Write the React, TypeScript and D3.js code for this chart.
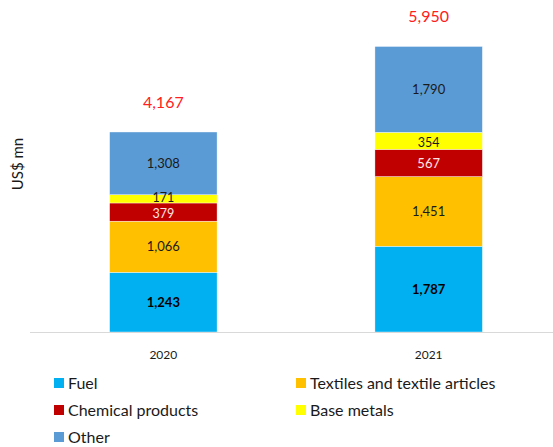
import React from "react";
import * as d3 from "d3";

const years = ["2020", "2021"];
const seriesNames = ["Fuel", "Textiles and textile articles", "Chemical products", "Base metals", "Other"];
const fuel = [1243, 1787];
const textiles = [1066, 1451];
const chemical = [379, 567];
const baseMetals = [171, 354];
const other = [1308, 1790];
const totals = [4167, 5950];
const colors = ["#00B0F0", "#FFC000", "#C00000", "#FFFF00", "#5B9BD5"];
const labelColors = ["#000", "#1a1a1a", "#ffe6e6", "#1a1a1a", "#1a1a1a"];
const labelWeights = ["bold", "normal", "normal", "normal", "normal"];

const W = 553;
const H = 447;
const FONT = "Lato, 'Open Sans', sans-serif";

export default function App() {
  const values = [fuel, textiles, chemical, baseMetals, other];
  const rows = years.map((yr, i) => {
    const r: any = { year: yr };
    seriesNames.forEach((s, k) => (r[s] = values[k][i]));
    return r;
  });
  const stack = d3.stack<any>().keys(seriesNames)(rows);

  const x = d3.scaleBand().domain(years).range([30, 562]).paddingInner(0.595).paddingOuter(0.3);
  const y = d3.scaleLinear().domain([0, 7000]).range([332, -4]);

  const legend = [
    { name: seriesNames[0], c: colors[0], x: 54, y: 383 },
    { name: seriesNames[1], c: colors[1], x: 296, y: 383 },
    { name: seriesNames[2], c: colors[2], x: 54, y: 410 },
    { name: seriesNames[3], c: colors[3], x: 296, y: 410 },
    { name: seriesNames[4], c: colors[4], x: 54, y: 437 },
  ];

  const fmt = d3.format(",");

  return (
    <svg width={W} height={H} style={{ position: "absolute", left: 0, top: 0, fontFamily: FONT }}>
      <rect width={W} height={H} fill="#fff" />
      {stack.map((layer, k) =>
        layer.map((d, i) => {
          const bx = x(years[i])!;
          const y0 = y(d[0]);
          const y1 = y(d[1]);
          return (
            <rect
              key={`${k}-${i}`}
              x={bx}
              y={y1}
              width={x.bandwidth()}
              height={y0 - y1}
              fill={colors[k]}
              stroke="#ffffff"
              strokeWidth={0.4}
            />
          );
        })
      )}
      <line x1={30} x2={553} y1={y(0) + 0.5} y2={y(0) + 0.5} stroke="#d9d9d9" strokeWidth={1} />
      {stack.map((layer, k) =>
        layer.map((d, i) => {
          const cx = x(years[i])! + x.bandwidth() / 2;
          const cy = (y(d[0]) + y(d[1])) / 2;
          const h = y(d[0]) - y(d[1]);
          const nudge = h < 12 ? -1.5 : h < 20 ? 1.5 : 0;
          return (
            <text
              key={`l${k}-${i}`}
              x={cx}
              y={cy + nudge}
              dy="0.35em"
              textAnchor="middle"
              fontSize={h < 20 ? 12.5 : 13}
              fontWeight={labelWeights[k]}
              fill={labelColors[k]}
            >
              {fmt(values[k][i])}
            </text>
          );
        })
      )}
      {totals.map((t, i) => (
        <text
          key={`t${i}`}
          x={x(years[i])! + x.bandwidth() / 2}
          y={y(t) - 30}
          dy="0.35em"
          textAnchor="middle"
          fontSize={16}
          fill="#FF2020"
        >
          {fmt(t)}
        </text>
      ))}
      {years.map((yr) => (
        <text key={yr} x={x(yr)! + x.bandwidth() / 2} y={355} dy="0.35em" textAnchor="middle" fontSize={12} fill="#1a1a1a">
          {yr}
        </text>
      ))}
      <text
        transform="translate(18,164) rotate(-90)"
        textAnchor="middle"
        dy="0.35em"
        fontSize={15}
        fill="#1a1a1a"
      >
        US$ mn
      </text>
      {legend.map((l) => (
        <g key={l.name}>
          <rect x={l.x} y={l.y - 5} width={10} height={10} fill={l.c} />
          <text x={l.x + 14} y={l.y} dy="0.35em" fontSize={16} fill="#1a1a1a">
            {l.name}
          </text>
        </g>
      ))}
    </svg>
  );
}
